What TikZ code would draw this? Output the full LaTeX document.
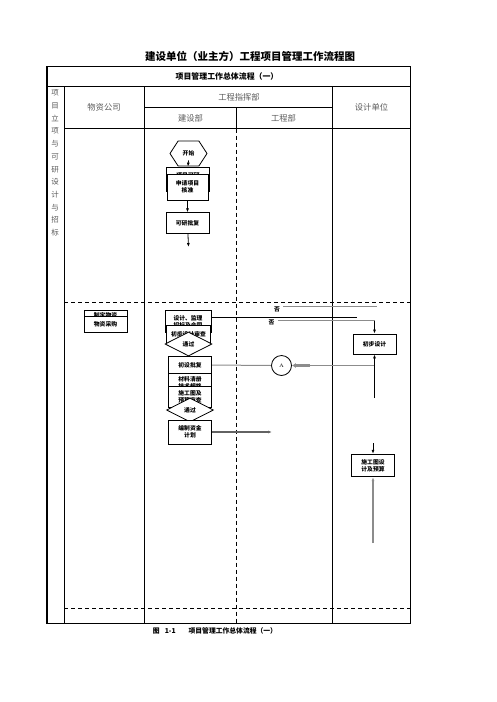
\documentclass[tikz,border=0pt]{standalone}
\usepackage{fontspec}
\newfontfamily\cjk{Noto Sans CJK SC}
\usetikzlibrary{positioning,shapes,arrows.meta}
\definecolor{lngray}{RGB}{140,140,140}
\definecolor{hdgray}{RGB}{90,90,90}

\begin{document}
\begin{tikzpicture}[x=1pt,y=-1pt,line width=0.8pt,
box/.style={draw, fill=white, align=center, inner sep=1pt, font=\cjk\bfseries\fontsize{5.8}{7}\selectfont},
hexa/.style={box, shape=signal, signal to=east and west, signal pointer angle=114, minimum width=37, minimum height=25, inner sep=0},
dia/.style={box, shape=diamond, aspect=1.9, inner sep=0, minimum width=47, minimum height=24},
conn/.style={draw, circle, fill=white, minimum size=20, inner sep=0, font=\fontsize{5}{6}\selectfont},
lbl/.style={inner sep=1pt, font=\cjk\bfseries\fontsize{5.8}{7}\selectfont},
colhd/.style={text=hdgray, font=\cjk\fontsize{8.3}{10}\selectfont},
dashln/.style={dash pattern=on 4pt off 3pt},
arr/.style={-{Latex[length=4pt,width=3pt]}},
grayln/.style={lngray, line width=1pt},
thickarr/.style={lngray, line width=2.4pt, -{Latex[length=4pt,width=5pt]}}]
\useasboundingbox (0,0) rectangle (496,702);

\draw (46,66) rectangle (410,623);
\draw[line width=2pt] (47,66) -- (47,623);
\draw (46,86.5) -- (410,86.5);
\draw (64,86.5) -- (64,623);
\draw (144,86.5) -- (144,623);
\draw (332.5,86.5) -- (332.5,623);
\draw (144,107.5) -- (332.5,107.5);
\draw (64,128.5) -- (410,128.5);
\draw (236.5,107.5) -- (236.5,128.5);
\draw[dashln] (236.5,128.5) -- (236.5,623);
\draw[dashln] (64,302) -- (410,302);
\draw[dashln] (64,608) -- (410,608);

\node[font=\cjk\bfseries\fontsize{10.5}{12}\selectfont] (title) at (250,56) {建设单位（业主方）工程项目管理工作流程图};
\node[font=\cjk\bfseries\fontsize{7.9}{9}\selectfont] (flow) at (227,76.5) {项目管理工作总体流程（一）};
\node[colhd] (zhb) at (239,97) {工程指挥部};
\node[colhd] (wzgs) at (104,107.5) {物资公司};
\node[colhd] (jsb) at (190.5,118) {建设部};
\node[colhd] (gcb) at (283.5,118) {工程部};
\node[colhd] (sjdw) at (371.5,107.5) {设计单位};
\node[colhd, align=center, font=\cjk\fontsize{7.5}{12.7}\selectfont] (stage) at (55,163) {项\\目\\立\\项\\与\\可\\研\\设\\计\\与\\招\\标};

\node[hexa] (start) at (188.5,153.5) {开始};
\node[box, minimum width=43, minimum height=24] (xmky) at (188,179) {项目可研\\报告编制};
\node[box, minimum width=41, minimum height=26] (sqhz) at (187.5,187) {申请项目\\核准};
\node[box, minimum width=43, minimum height=21, below=12pt of sqhz] (kypf) {可研批复};
\coordinate (kyend) at (188.5,247);

\node[box, minimum width=43, minimum height=17] (wzjh) at (105.5,318.5) {制定物资\\采购计划};
\node[box, minimum width=43, minimum height=16] (wzcg) at (105.5,324.5) {物资采购};

\node[box, minimum width=46, minimum height=22] (sjjl) at (188,321.5) {设计、监理\\招标及合同};
\node[box, minimum width=44, minimum height=18] (csbg) at (188.5,334.5) {初步设计审查};
\node[dia] (tg1) at (188.5,344) {通过};
\node[box, minimum width=43.5, minimum height=17.5] (cspf) at (190,365) {初设批复};
\node[box, minimum width=43.5, minimum height=19, font=\cjk\bfseries\fontsize{5.8}{7.5}\selectfont] (clqc) at (190,383) {材料清册\\技术规格};
\node[box, minimum width=43.5, minimum height=21] (sgt) at (190,397) {施工图及\\预算审查};
\node[dia] (tg2) at (190,410) {通过};
\node[box, minimum width=43.5, minimum height=24] (bzzj) at (190,432) {编制资金\\计划};

\node[box, minimum width=43, minimum height=20] (cbsj) at (374.5,344) {初步设计};
\node[box, minimum width=42.5, minimum height=22.5] (sgtsj) at (373,465.5) {施工图设\\计及预算};
\node[conn] (A) at (281.5,365.5) {A};
\node[lbl] (no1) at (277,309.5) {否};
\node[lbl] (no2) at (271.5,322.5) {否};

\coordinate (sjend) at (357,317.7);
\coordinate (noend1) at (376.5,306.7);
\coordinate (noturn) at (374.5,320.7);
\coordinate (aend) at (310,365.5);
\coordinate (aturn) at (374.5,365.5);
\coordinate (cbbot) at (374.5,398);
\coordinate (zjend) at (272,432);
\coordinate (sgttop) at (373,443);
\coordinate (sgtbot) at (373,543);

\draw[arr] ([yshift=6pt]start.south) -- (xmky.north);
\draw[arr] (sqhz) -- (kypf);
\draw[arr] (kypf) -- (kyend);
\draw (sjjl.east |- sjend) -- (sjend);
\draw[grayln] ([xshift=2pt]no1.east |- noend1) -- (noend1);
\draw[grayln] ([xshift=2pt]no2.east |- noturn) -- (noturn);
\draw[arr] (noturn) -- (cbsj.north);
\draw[grayln] (cspf.east) -- (A.west);
\draw[grayln] (aturn) -- (aend);
\draw[thickarr] (aend) -- (A.east);
\draw[arr] (cbbot) -- (cbsj.south);
\draw[arr, lngray!70!black, line width=1.5pt] (bzzj.east) -- (zjend);
\draw[arr] (sgttop) -- (sgtsj.north);
\draw[arr, grayln, line width=1.5pt] (sgtbot) -- (sgtsj.south);

\node[font=\cjk\bfseries\fontsize{6.8}{8}\selectfont] (cap) at (215,630.5) {图\hspace{5pt}1-1\hspace{13pt}项目管理工作总体流程（一）};
\end{tikzpicture}
\end{document}
